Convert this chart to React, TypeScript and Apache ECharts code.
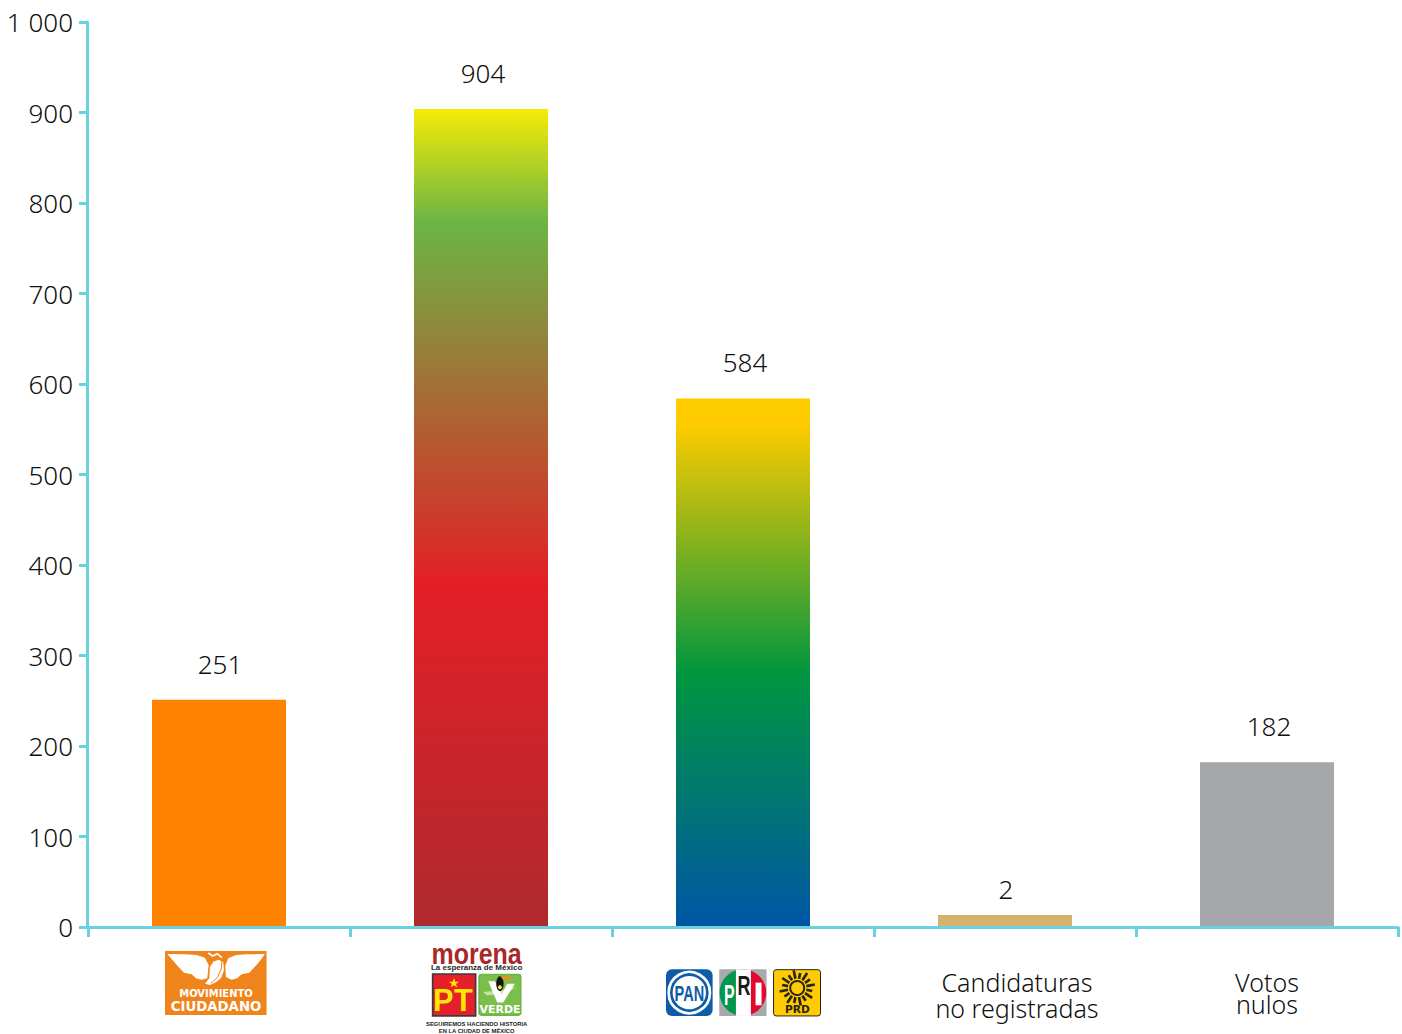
import React, { useEffect, useRef } from "react";
import * as echarts from "echarts";

const categories = ["Movimiento Ciudadano", "Morena, PT, Verde", "PAN, PRI, PRD", "Candidaturas\nno registradas", "Votos\nnulos"];
const votes = [251, 904, 584, 2, 182];
const yTicks = { min: 0, max: 1000, interval: 100 };

const AXIS = "#6ad2de";
const INK = "#0f0f0e";
const FONT = "'Noto Sans', 'Open Sans', sans-serif";
const LOGO = "'Liberation Sans', Arial, sans-serif";
const WIDE = "'DejaVu Sans', sans-serif";
const labelOffsets = [[1, 0], [2, 0], [2, 0], [1, 10], [2, 0]];

const grad = (stops: [number, string][]) =>
  new echarts.graphic.LinearGradient(0, 0, 0, 1, stops.map(([offset, color]) => ({ offset, color })));

const barFills = [
  "#ff8200",
  grad([[0, "#f6eb06"], [0.137, "#6cb544"], [0.58, "#e31f26"], [1, "#af2a2e"]]),
  grad([[0, "#ffcc00"], [0.05, "#fdcb00"], [0.52, "#00963f"], [1, "#0056a6"]]),
  "#d4b26d",
  "#a6a7aa",
];

const poly = (points: number[][], fill: string) => ({ type: "polygon", shape: { points }, style: { fill }, silent: true });
const line = (points: number[][], stroke: string, lineWidth: number) => ({
  type: "polyline", shape: { points }, style: { stroke, lineWidth, fill: "none" }, silent: true,
});
const txt = (x: number, y: number, text: string, fontSize: number, fill: string, family = LOGO, sx = 1, sy = 1) => ({
  type: "text", x, y, scaleX: sx, scaleY: sy,
  style: { text, fontSize, fill, fontFamily: family, fontWeight: "bold", align: "center", verticalAlign: "middle" },
  silent: true,
});
const box = (x: number, y: number, width: number, height: number, fill: string, r = 0, stroke?: string, lineWidth = 0) => ({
  type: "rect", shape: { x, y, width, height, r }, style: { fill, stroke, lineWidth }, silent: true,
});
const segment = (cx: number, cy: number, r: number, from: number, to: number, fill: string) => {
  const pts: number[][] = [];
  const n = 24;
  for (let i = 0; i <= n; i++) {
    const a = from + ((to - from) * i) / n;
    pts.push([cx + r * Math.cos(a), cy + r * Math.sin(a)]);
  }
  return poly(pts, fill);
};

function sunRays(cx: number, cy: number) {
  const out: any[] = [];
  for (let i = 0; i < 16; i++) {
    const a = (i * Math.PI) / 8 + Math.PI / 16;
    const outer = i % 2 ? 54 : 46;
    out.push(line([[cx + 28 * Math.cos(a), cy + 28 * Math.sin(a)], [cx + outer * Math.cos(a), cy + outer * Math.sin(a)]], "#2a2414", 8));
  }
  return out;
}

const logoGroup = (x: number, y: number, children: any[]) => ({ type: "group", x, y, scaleX: 1 / 3, scaleY: 1 / 3, children });

const logoMC = logoGroup(160, 945, [
  box(15, 18, 305, 192, "#f0841c"),
  poly([[22, 27], [75, 28], [110, 30], [135, 38], [146, 60], [142, 100], [125, 104], [108, 100], [95, 88], [72, 83], [55, 65], [40, 48]], "#fff"),
  poly([[315, 27], [262, 28], [228, 30], [205, 40], [196, 62], [198, 96], [215, 104], [232, 100], [245, 88], [268, 83], [285, 65], [300, 48]], "#fff"),
  poly([[150, 66], [160, 50], [176, 44], [190, 52], [192, 76], [184, 98], [168, 112], [150, 120], [135, 116], [148, 100]], "#fff"),
  line([[145, 24], [158, 38], [176, 30], [186, 44], [184, 72], [172, 98], [152, 116]], "#f0841c", 3),
  line([[145, 24], [158, 33], [172, 26], [186, 38]], "#fff", 5),
  txt(168, 146, "MOVIMIENTO", 29, "#fff", WIDE, 1.03, 1),
  txt(168, 184, "CIUDADANO", 40, "#fff", WIDE, 1, 1),
]);

const logoMorena = logoGroup(420, 942, [
  txt(170, 36, "morena", 75, "#a8272b", LOGO, 1, 1.18),
  txt(170, 75, "La esperanza de México", 24, "#2b2a29"),
  box(38, 96, 129, 126, "#e4202a", 0, "#3a3a3a", 5),
  poly([[102, 108], [106, 119], [117, 119], [108, 126], [112, 137], [102, 130], [92, 137], [96, 126], [87, 119], [98, 119]], "#ffe600"),
  txt(70, 174, "P", 92, "#ffe600"),
  txt(130, 174, "T", 92, "#ffe600"),
  box(175, 95, 130, 127, "#6fb544", 10),
  box(180, 100, 120, 117, "#7abf4c", 8),
  poly([[190, 150], [245, 145], [290, 135], [250, 158], [200, 160]], "#c8dfa6"),
  poly([[205, 118], [225, 118], [245, 158], [262, 125], [285, 125], [250, 182], [232, 182]], "#fff"),
  { type: "ellipse", shape: { cx: 240, cy: 125, rx: 11, ry: 22 }, style: { fill: "#141414" }, silent: true },
  poly([[243, 106], [262, 102], [278, 115], [250, 113]], "#f28c1c"),
  { type: "circle", shape: { cx: 240, cy: 136, r: 6 }, style: { fill: "#f4e34d" }, silent: true },
  txt(240, 202, "VERDE", 33, "#fff", WIDE, 1, 1),
  txt(170, 246, "SEGUIREMOS HACIENDO HISTORIA", 17.5, "#222"),
  txt(170, 266, "EN LA CIUDAD DE MÉXICO", 17.5, "#222"),
]);

const logoAlliance = logoGroup(660, 962, [
  box(18, 22, 140, 140, "#0d5ca8", 18),
  { type: "circle", shape: { cx: 88, cy: 92, r: 62 }, style: { fill: "#0d5ca8", stroke: "#fff", lineWidth: 8 }, silent: true },
  { type: "circle", shape: { cx: 88, cy: 92, r: 50 }, style: { fill: "#fff" }, silent: true },
  txt(88, 94, "PAN", 64, "#0d5ca8", LOGO, 0.68, 1),
  box(178, 22, 142, 140, "#a7a9ac"),
  segment(249, 92, 70, Math.PI * 0.5, Math.PI * 1.5, "#00964b"),
  segment(249, 92, 70, -Math.PI * 0.5, Math.PI * 0.5, "#e2082e"),
  box(228, 22, 45, 140, "#fff"),
  txt(208, 99, "P", 87, "#fff", LOGO, 0.55, 1),
  txt(252, 72, "R", 83, "#1a1a1a", LOGO, 0.65, 1),
  box(287, 62, 18, 68, "#fff"),
  box(341, 23, 141, 139, "#ffcb05", 8, "#2a2414", 3),
  ...sunRays(412, 78),
  { type: "circle", shape: { cx: 412, cy: 78, r: 21 }, style: { fill: "#ffcb05", stroke: "#2a2414", lineWidth: 6 }, silent: true },
  txt(412, 143, "PRD", 32, "#2a2414", WIDE, 1, 1),
]);

export default function App() {
  const ref = useRef<HTMLDivElement>(null);
  useEffect(() => {
    const chart = echarts.init(ref.current!, undefined, { renderer: "svg" });
    chart.setOption({
      animation: false,
      backgroundColor: "#ffffff",
      grid: { left: 88, right: 4, top: 22, bottom: 107, containLabel: false },
      xAxis: {
        type: "category",
        data: categories,
        z: 10,
        axisLine: { lineStyle: { color: AXIS, width: 3 } },
        axisTick: { show: true, alignWithLabel: false, length: 10, lineStyle: { color: AXIS, width: 3 } },
        axisLabel: {
          interval: 0,
          margin: 42,
          formatter: (v: string, i: number) => {
            if (i < 3) return "";
            const [a, b] = v.split("\n");
            return i === 3 ? `{c|${a}}\n{c|${b}}` : `{v|${a}}\n{n|${b}}`;
          },
          rich: {
            c: { fontFamily: FONT, fontWeight: 300, fontSize: 25, lineHeight: 26, color: INK, padding: [0, 0, 0, 24], align: "center" },
            v: { fontFamily: FONT, fontWeight: 300, fontSize: 25, lineHeight: 26, color: INK, align: "center" },
            n: { fontFamily: FONT, fontWeight: 300, fontSize: 25, lineHeight: 18, color: INK, align: "center" },
          },
        },
      },
      yAxis: {
        type: "value",
        ...yTicks,
        z: 10,
        offset: 1,
        splitLine: { show: false },
        axisLine: { show: true, lineStyle: { color: AXIS, width: 3 } },
        axisTick: { show: true, length: 8, lineStyle: { color: AXIS, width: 3 } },
        axisLabel: {
          margin: 14,
          fontFamily: FONT,
          fontWeight: 300,
          fontSize: 26,
          color: INK,
          formatter: (v: number) => String(v).replace(/\B(?=(\d{3})+$)/g, " "),
        },
      },
      series: [
        {
          type: "bar",
          barWidth: 134,
          barMinHeight: 12,
          data: votes.map((value, i) => ({
            value,
            itemStyle: { color: barFills[i] },
            label: { offset: labelOffsets[i] },
          })),
          label: {
            show: true,
            position: "top",
            distance: 23,
            fontFamily: FONT,
            fontWeight: 300,
            fontSize: 26,
            color: INK,
          },
        },
      ],
      graphic: { elements: [logoMC, logoMorena, logoAlliance] },
    });
    return () => chart.dispose();
  }, []);
  return <div ref={ref} style={{ position: "absolute", left: 0, top: 0, width: 1402, height: 1034 }} />;
}
